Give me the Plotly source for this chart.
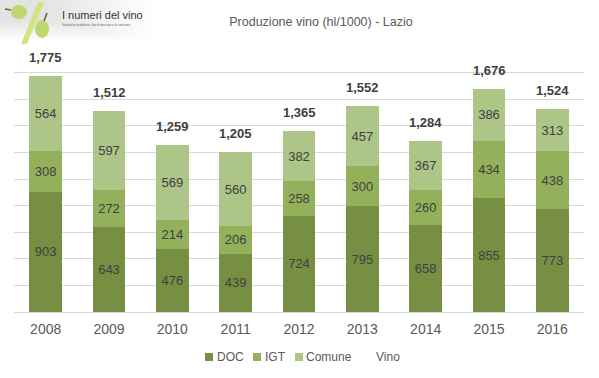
import plotly.graph_objects as go

years = ["2008", "2009", "2010", "2011", "2012", "2013", "2014", "2015", "2016"]
doc = [903, 643, 476, 439, 724, 795, 658, 855, 773]
igt = [308, 272, 214, 206, 258, 300, 260, 434, 438]
comune = [564, 597, 569, 560, 382, 457, 367, 386, 313]
vino = [1775, 1512, 1259, 1205, 1365, 1552, 1284, 1676, 1524]

series_names = ["DOC", "IGT", "Comune", "Vino"]
colors = ["#778f42", "#93b05a", "#adc688"]

W, H = 599, 378
ML, MR, MT, MB = 14, 15, 46, 66
PW = W - ML - MR
PH = H - MT - MB


def px(x):
    return (x - ML) / PW


def py(y):
    return (H - MB - y) / PH


FONT = "Liberation Sans, Arial, sans-serif"

fig = go.Figure()
for name, vals, col in zip(series_names[:3], [doc, igt, comune], colors):
    fig.add_trace(go.Bar(
        x=years, y=vals, name=name, marker=dict(color=col, line=dict(width=0)),
        text=[str(v) for v in vals], textposition="inside", insidetextanchor="middle",
        textangle=0, constraintext="none",
        textfont=dict(color="#404040", size=13, family=FONT),
        showlegend=False, hoverinfo="x+y+name",
    ))

for i, v in enumerate(vino):
    fig.add_annotation(x=i, y=v, text="<b>{:,}</b>".format(v), showarrow=False,
                       yanchor="bottom", yshift=9,
                       font=dict(size=13, color="#404040", family=FONT))

shapes = []
# logo background gradient
for i in range(14):
    shapes.append(dict(type="rect", xref="paper", yref="paper",
                       x0=px(0), x1=px(150 - i * 8), y0=py(0), y1=py(40 - i * 1.5),
                       fillcolor="rgba(0,0,0,0.009)", line=dict(width=0), layer="below"))
# slash
shapes.append(dict(type="path", xref="paper", yref="paper",
                   path="M {} {} L {} {} L {} {} L {} {} Z".format(
                       px(38), py(2), px(44), py(2), px(27), py(44), px(21), py(44)),
                   fillcolor="#d3e47e", line=dict(width=0)))
# grapes
shapes.append(dict(type="circle", xref="paper", yref="paper",
                   x0=px(11), x1=px(27), y0=py(5), y1=py(19),
                   fillcolor="#bcd86c", line=dict(width=0)))
shapes.append(dict(type="circle", xref="paper", yref="paper",
                   x0=px(35), x1=px(49), y0=py(20), y1=py(38),
                   fillcolor="#bcd86c", line=dict(width=0)))
shapes.append(dict(type="line", xref="paper", yref="paper",
                   x0=px(11), x1=px(5), y0=py(10), y1=py(9),
                   line=dict(color="#7a5a2a", width=1.5)))
shapes.append(dict(type="line", xref="paper", yref="paper",
                   x0=px(44), x1=px(47), y0=py(21), y1=py(13),
                   line=dict(color="#7a5a2a", width=1.5)))

# legend
leg_sq = [205, 253, 295]
leg_tx = [215, 263, 304, 374]
for xs, col in zip(leg_sq, colors):
    shapes.append(dict(type="rect", xref="paper", yref="paper",
                       x0=px(xs), x1=px(xs + 8), y0=py(353), y1=py(361),
                       fillcolor=col, line=dict(width=0)))
for xt, name in zip(leg_tx, series_names):
    fig.add_annotation(xref="paper", yref="paper", x=px(xt), y=py(357), text=name,
                       showarrow=False, xanchor="left", yanchor="middle",
                       font=dict(size=12, color="#595959", family=FONT))

fig.add_annotation(xref="paper", yref="paper", x=px(60), y=py(15), text="I numeri del vino",
                   showarrow=False, xanchor="left", yanchor="middle",
                   font=dict(size=11, color="#333333", family=FONT))
fig.add_annotation(xref="paper", yref="paper", x=px(60), y=py(25),
                   text="Statistiche produttive, dati di mercato e di consumo.",
                   showarrow=False, xanchor="left", yanchor="middle",
                   font=dict(size=3, color="#666666", family=FONT))

fig.update_layout(
    width=W, height=H,
    margin=dict(l=ML, r=MR, t=MT, b=MB),
    barmode="stack", bargap=0.48,
    plot_bgcolor="white", paper_bgcolor="white",
    title=dict(text="Produzione vino (hl/1000) - Lazio", x=321 / W, xanchor="center",
               y=1 - 22 / H, yanchor="middle",
               font=dict(size=12.5, color="#595959", family=FONT)),
    shapes=shapes,
    showlegend=False,
    xaxis=dict(type="category", range=[-0.5, len(years) - 0.5], autorange=False,
               showgrid=False, showline=False, ticks="outside", ticklen=4,
               tickcolor="rgba(0,0,0,0)",
               tickfont=dict(size=14, color="#595959", family=FONT)),
    yaxis=dict(range=[0, 2001], autorange=False, tick0=0, dtick=200, showticklabels=False,
               gridcolor="#d9d9d9", gridwidth=1, zeroline=True,
               zerolinecolor="#d9d9d9", zerolinewidth=1),
)

fig.write_html("out.html", config={"displayModeBar": False},
               post_script="document.body.style.margin='0px';")
